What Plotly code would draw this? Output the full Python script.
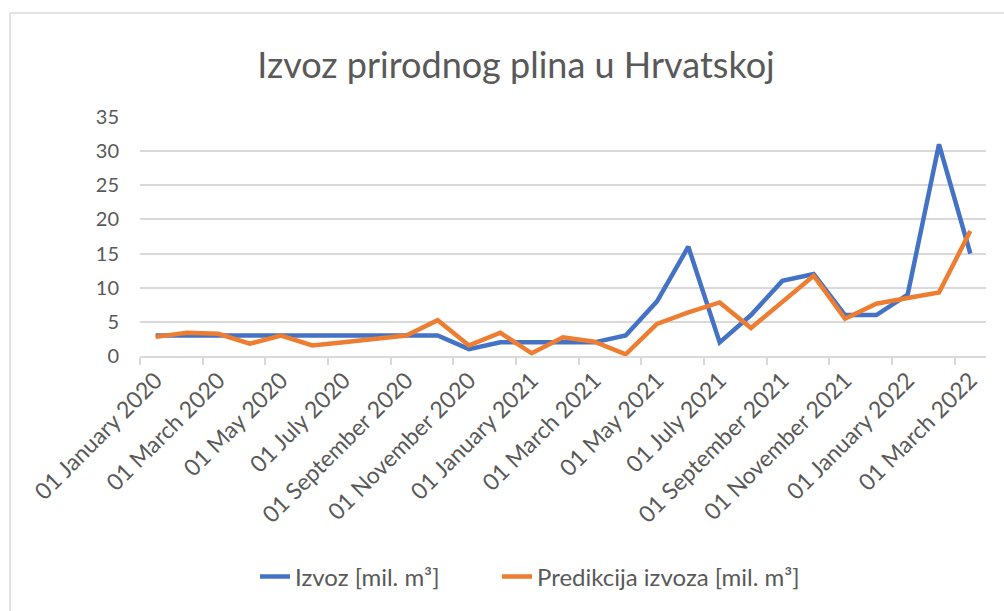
import plotly.graph_objects as go

months = [
    "01 January 2020", "01 February 2020", "01 March 2020", "01 April 2020",
    "01 May 2020", "01 June 2020", "01 July 2020", "01 August 2020",
    "01 September 2020", "01 October 2020", "01 November 2020", "01 December 2020",
    "01 January 2021", "01 February 2021", "01 March 2021", "01 April 2021",
    "01 May 2021", "01 June 2021", "01 July 2021", "01 August 2021",
    "01 September 2021", "01 October 2021", "01 November 2021", "01 December 2021",
    "01 January 2022", "01 February 2022", "01 March 2022",
]

izvoz = [3, 3, 3, 3, 3, 3, 3, 3, 3, 3, 1, 2,
         2, 2, 2, 3, 8, 16, 2, 6, 11, 12, 6, 6,
         9, 31, 15]

predikcija = [2.8, 3.4, 3.25, 1.8, 3.0, 1.55, 2.0, 2.5, 3.0, 5.25, 1.55, 3.4,
              0.4, 2.75, 2.1, 0.25, 4.7, 6.4, 7.85, 4.1, 7.9, 11.75, 5.45, 7.65,
              8.5, 9.3, 18.3]

y_ticks = [0, 5, 10, 15, 20, 25, 30, 35]

idx = list(range(len(months)))
label_idx = idx[::2]
label_text = [months[i] for i in label_idx]

FONT = "Lato, Carlito, Calibri, sans-serif"
GREY = "#595959"

fig = go.Figure()
fig.add_trace(go.Scatter(x=idx, y=izvoz, mode="lines", name="Izvoz [mil. m³]",
                         line=dict(color="#4472C4", width=4.5), legend="legend"))
fig.add_trace(go.Scatter(x=idx, y=predikcija, mode="lines", name="Predikcija izvoza [mil. m³]",
                         line=dict(color="#ED7D31", width=4.5), legend="legend2"))

legend_common = dict(orientation="h", xref="container", yref="container",
                     xanchor="left", y=1 - 577 / 611, yanchor="middle",
                     font=dict(size=24, color=GREY, family=FONT),
                     bgcolor="rgba(0,0,0,0)")

fig.update_layout(
    width=1004, height=611,
    margin=dict(l=140, r=18, t=117, b=255, autoexpand=False),
    paper_bgcolor="white", plot_bgcolor="white",
    font=dict(family=FONT, color=GREY),
    title=dict(text="Izvoz prirodnog plina u Hrvatskoj", x=516 / 1004, xanchor="center",
               y=1 - 65 / 611, yanchor="middle", font=dict(size=36, color=GREY, family=FONT)),
    showlegend=True,
    legend=dict(legend_common, x=255 / 1004),
    legend2=dict(legend_common, x=497 / 1004),
    xaxis=dict(
        range=[-0.5, len(months) - 0.5], automargin=False,
        tickmode="array", tickvals=label_idx, ticktext=label_text,
        tickangle=-45, ticks="", showgrid=False, zeroline=False,
        showline=True, linecolor="#d9d9d9", linewidth=1.5,
        tickfont=dict(size=23, color=GREY, family=FONT),
        minor=dict(tickmode="linear", tick0=-0.5, dtick=2, ticks="outside",
                   ticklen=7, tickcolor="#d9d9d9", tickwidth=1.5, showgrid=False),
    ),
    yaxis=dict(
        range=[0, 35], tickmode="array", tickvals=y_ticks, automargin=False,
        showgrid=True, gridcolor="#d9d9d9", gridwidth=1.5,
        zeroline=False, showline=False, ticks="", ticklabelstandoff=20,
        tickfont=dict(size=20, color=GREY, family=FONT),
    ),
    shapes=[
        dict(type="line", xref="paper", yref="paper",
             x0=(10 - 140) / 846, x1=(1010 - 140) / 846,
             y0=(356 - 13) / 239, y1=(356 - 13) / 239,
             line=dict(color="#d9d9d9", width=1.5)),
        dict(type="line", xref="paper", yref="paper",
             x0=(10 - 140) / 846, x1=(10 - 140) / 846,
             y0=(356 - 13) / 239, y1=(356 - 620) / 239,
             line=dict(color="#d9d9d9", width=1.5)),
    ],
)

fig.write_html("out.html", config={"displayModeBar": False},
               post_script="document.body.style.margin='0';document.body.style.overflow='hidden';")
